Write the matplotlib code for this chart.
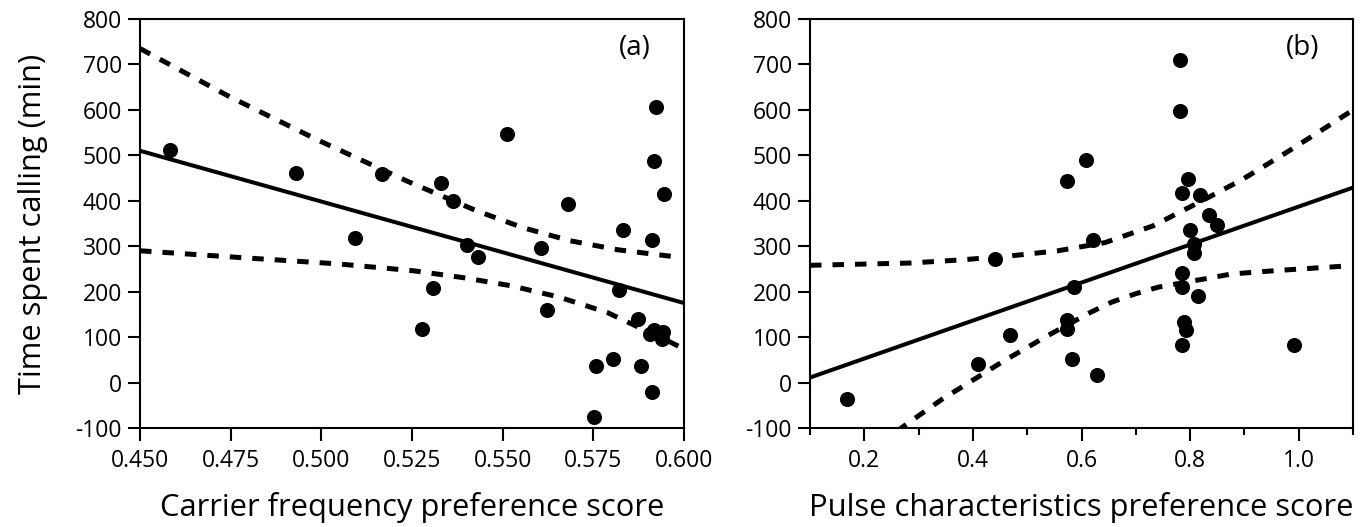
import numpy as np
import matplotlib
matplotlib.use('Agg')
import matplotlib.pyplot as plt

plt.rcParams['font.family'] = ['Open Sans', 'DejaVu Sans']
plt.rcParams['axes.unicode_minus'] = False

# panel (a): carrier frequency preference score vs time spent calling
carrier_x = [0.4584, 0.4929, 0.5092, 0.5166, 0.5278, 0.5307, 0.5331, 0.5364,
             0.5403, 0.5431, 0.5511, 0.5607, 0.5623, 0.5679, 0.5753, 0.5758,
             0.5804, 0.5821, 0.5833, 0.5872, 0.5882, 0.5911, 0.5906, 0.5916,
             0.5939, 0.5942, 0.5911, 0.5916, 0.5923, 0.5945]
carrier_y = [511, 462, 317, 458, 118, 209, 439, 399,
             303, 276, 548, 295, 159, 394, -75, 37,
             51, 203, 335, 140, 37, -21, 107, 115,
             96, 112, 313, 488, 607, 416]
carrier_fit_x = [0.45, 0.60]
carrier_fit_y = [510, 175]
# confidence band
carrier_up_x = [0.45, 0.4747, 0.4992, 0.524, 0.5428, 0.5555, 0.5686, 0.5819,
                0.5952, 0.5975]
carrier_up_y = [735, 629, 533, 442, 378, 341, 312, 292, 279, 277]
carrier_lo_x = [0.45, 0.4778, 0.5048, 0.5254, 0.539, 0.5523, 0.5656, 0.5789,
                0.5962, 0.5985]
carrier_lo_y = [290, 275, 261, 246, 231, 213, 188, 154, 89, 80]

# panel (b): pulse characteristics preference score vs time spent calling
pulse_x = [0.1676, 0.4086, 0.4416, 0.4686, 0.5737, 0.5737, 0.5737, 0.5820,
           0.5857, 0.6083, 0.6203, 0.6278, 0.7817, 0.7817, 0.7854, 0.7854,
           0.7854, 0.7854, 0.7892, 0.7930, 0.7967, 0.7997, 0.8072, 0.8072,
           0.8147, 0.8185, 0.8342, 0.8492, 0.9919]
pulse_y = [-36, 41, 272, 105, 444, 138, 118, 52,
           210, 489, 314, 16, 710, 598, 417, 242,
           210, 83, 134, 116, 448, 336, 305, 285,
           191, 412, 369, 347, 83]
pulse_fit_x = [0.1, 1.1]
pulse_fit_y = [11, 429]
pulse_up_x = [0.1, 0.2839, 0.3794, 0.4714, 0.5567, 0.6433, 0.7322, 0.8122,
              0.895, 0.9717, 1.0484, 1.0884, 1.0955]
pulse_up_y = [258, 263, 270, 279, 290, 308, 345, 394, 446, 502, 560, 591,
              596]
pulse_lo_x = [0.26, 0.2727, 0.344, 0.3794, 0.456, 0.5359, 0.6157, 0.6556,
              0.6985, 0.7415, 0.8306, 0.8766, 0.9656, 1.0945]
pulse_lo_y = [-107, -96, -36, -10, 47, 102, 154, 177, 195, 210, 229, 239,
              247, 257]

y_ticks = list(range(-100, 801, 100))
carrier_ticks = [0.450, 0.475, 0.500, 0.525, 0.550, 0.575, 0.600]
pulse_major = [0.2, 0.4, 0.6, 0.8, 1.0]
pulse_minor = [0.1, 0.3, 0.5, 0.7, 0.9, 1.1]

fig = plt.figure(figsize=(13.72, 5.27), dpi=100)
ax1 = fig.add_axes([140 / 1372, 99 / 527, 544 / 1372, 409 / 527])
ax2 = fig.add_axes([810 / 1372, 99 / 527, 543 / 1372, 409 / 527])

dash = (2.3, 2.2)


def draw_panel(ax, x, y, fx, fy, ux, uy, lx, ly):
    ax.plot(fx, fy, color='black', lw=2.9)
    ax.plot(ux, uy, color='black', lw=3.6, dashes=dash)
    ax.plot(lx, ly, color='black', lw=3.6, dashes=dash)
    ax.scatter(x, y, s=118, color='black', zorder=3, linewidths=0)
    ax.set_ylim(-100, 800)
    ax.set_yticks(y_ticks)
    for sp in ax.spines.values():
        sp.set_linewidth(1.5)
        sp.set_color('black')
    ax.tick_params(axis='both', which='major', direction='out', length=9,
                   width=1.5, labelsize=16.5, colors='black')
    ax.tick_params(axis='y', pad=4)
    ax.tick_params(axis='x', pad=6)
    ax.tick_params(axis='x', which='minor', direction='out', length=5,
                   width=1.5)


draw_panel(ax1, carrier_x, carrier_y, carrier_fit_x, carrier_fit_y,
           carrier_up_x, carrier_up_y, carrier_lo_x, carrier_lo_y)
ax1.set_xlim(0.45, 0.60)
ax1.set_xticks(carrier_ticks)
ax1.set_xticklabels(['%.3f' % t for t in carrier_ticks])
ax1.set_xlabel('Carrier frequency preference score', fontsize=22.2,
               labelpad=14)
ax1.set_ylabel('Time spent calling (min)', fontsize=22.2, labelpad=20)
ax1.text(0.91, 0.93, '(a)', transform=ax1.transAxes, fontsize=20,
         ha='center', va='center')

draw_panel(ax2, pulse_x, pulse_y, pulse_fit_x, pulse_fit_y,
           pulse_up_x, pulse_up_y, pulse_lo_x, pulse_lo_y)
ax2.set_xlim(0.1, 1.1)
ax2.set_xticks(pulse_major)
ax2.set_xticklabels(['%.1f' % t for t in pulse_major])
ax2.set_xticks(pulse_minor, minor=True)
ax2.set_xlabel('Pulse characteristics preference score', fontsize=22.2,
               labelpad=14)
ax2.text(0.908, 0.93, '(b)', transform=ax2.transAxes, fontsize=20,
         ha='center', va='center')

fig.savefig('out.png', dpi=100)
